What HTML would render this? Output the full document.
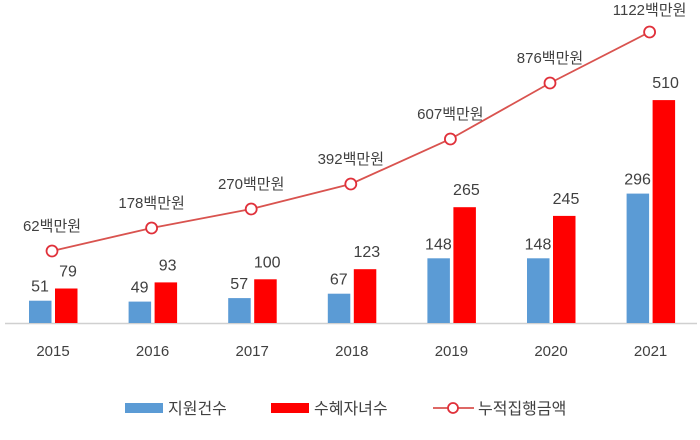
<!DOCTYPE html>
<html><head><meta charset="utf-8"><style>
body{margin:0;background:#fff;}
svg{display:block;font-family:"Liberation Sans","Noto Sans CJK KR",sans-serif;}
</style></head><body>
<svg width="700" height="440" viewBox="0 0 700 440">
<line x1="5" y1="323.5" x2="697" y2="323.5" stroke="#d0d0d0" stroke-width="1.5"/>
<g fill="#5b9bd5">
<rect x="29" y="300.7" width="22.5" height="22.3"/>
<rect x="128.6" y="301.6" width="22.5" height="21.4"/>
<rect x="228.2" y="298.1" width="22.5" height="24.9"/>
<rect x="327.8" y="293.7" width="22.5" height="29.3"/>
<rect x="427.4" y="258.3" width="22.5" height="64.7"/>
<rect x="527" y="258.3" width="22.5" height="64.7"/>
<rect x="626.6" y="193.6" width="22.5" height="129.4"/>
</g>
<g fill="#ff0000">
<rect x="55" y="288.5" width="22.5" height="34.5"/>
<rect x="154.6" y="282.4" width="22.5" height="40.6"/>
<rect x="254.2" y="279.3" width="22.5" height="43.7"/>
<rect x="353.8" y="269.2" width="22.5" height="53.8"/>
<rect x="453.4" y="207.2" width="22.5" height="115.8"/>
<rect x="553" y="215.9" width="22.5" height="107.1"/>
<rect x="652.6" y="100.1" width="22.5" height="222.9"/>
</g>
<g font-size="16" fill="#404040" text-anchor="middle">
<text x="40" y="291.7">51</text>
<text x="139.6" y="292.6">49</text>
<text x="239.2" y="289.1">57</text>
<text x="338.8" y="284.7">67</text>
<text x="438.4" y="249.3">148</text>
<text x="538" y="249.3">148</text>
<text x="637.6" y="184.6">296</text>
<text x="68" y="276.5">79</text>
<text x="167.6" y="270.4">93</text>
<text x="267.2" y="267.3">100</text>
<text x="366.8" y="257.2">123</text>
<text x="466.4" y="195.2">265</text>
<text x="566" y="203.9">245</text>
<text x="665.6" y="88.1">510</text>
</g>
<g font-size="15" fill="#404040" text-anchor="middle">
<text x="53" y="356">2015</text>
<text x="152.6" y="356">2016</text>
<text x="252.2" y="356">2017</text>
<text x="351.8" y="356">2018</text>
<text x="451.4" y="356">2019</text>
<text x="551" y="356">2020</text>
<text x="650.6" y="356">2021</text>
<text x="52" y="231">62백만원</text>
<text x="151.6" y="208">178백만원</text>
<text x="251.2" y="189">270백만원</text>
<text x="350.8" y="164">392백만원</text>
<text x="450.4" y="119">607백만원</text>
<text x="550" y="63">876백만원</text>
<text x="649.6" y="15">1122백만원</text>
</g>
<polyline points="52,251 151.6,228 251.2,209 350.8,184 450.4,139 550,83 649.6,32" fill="none" stroke="#d9534f" stroke-width="1.8"/>
<g fill="#fff" stroke="#e0303a" stroke-width="1.8">
<circle cx="52" cy="251" r="5.5"/>
<circle cx="151.6" cy="228" r="5.5"/>
<circle cx="251.2" cy="209" r="5.5"/>
<circle cx="350.8" cy="184" r="5.5"/>
<circle cx="450.4" cy="139" r="5.5"/>
<circle cx="550" cy="83" r="5.5"/>
<circle cx="649.6" cy="32" r="5.5"/>
</g>
<rect x="125" y="403" width="38" height="10" fill="#5b9bd5"/>
<text x="168" y="414" font-size="16" fill="#404040">지원건수</text>
<rect x="271" y="403" width="38" height="10" fill="#ff0000"/>
<text x="314" y="414" font-size="16" fill="#404040">수혜자녀수</text>
<line x1="433" y1="408" x2="474" y2="408" stroke="#d9534f" stroke-width="1.8"/>
<circle cx="453" cy="408" r="5" fill="#fff" stroke="#e0303a" stroke-width="1.8"/>
<text x="478" y="414" font-size="16" fill="#404040">누적집행금액</text>
</svg>
</body></html>
